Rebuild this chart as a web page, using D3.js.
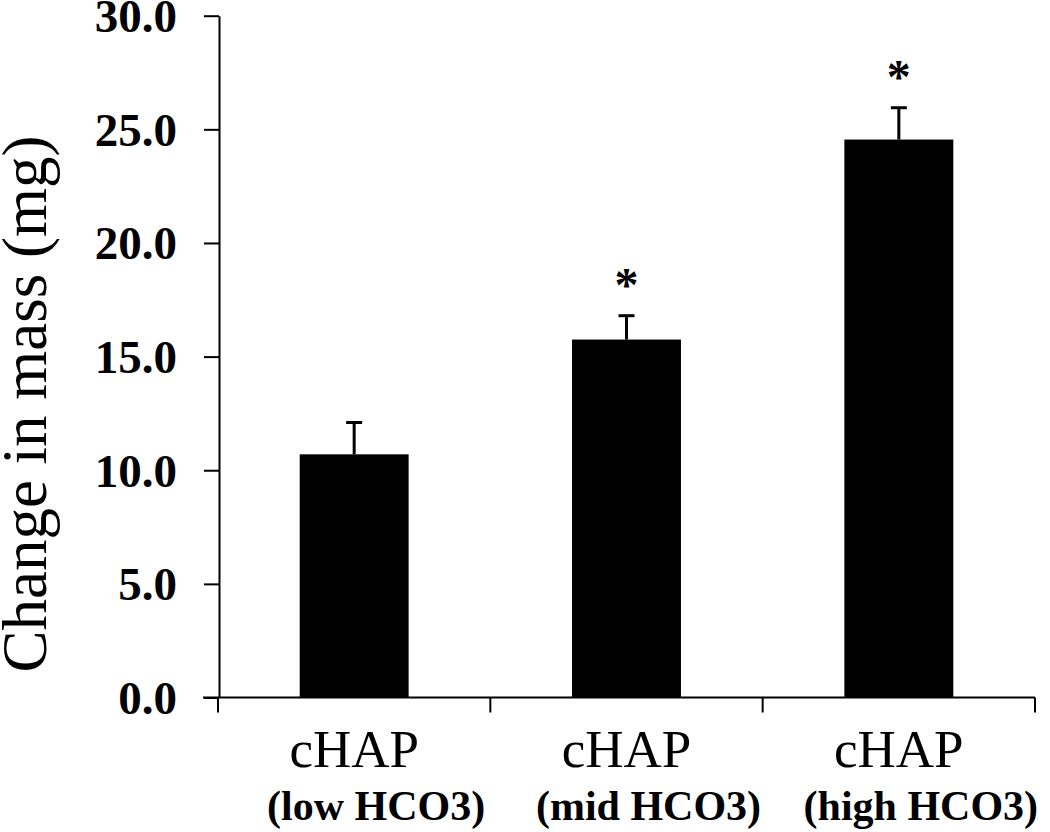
<!DOCTYPE html>
<html>
<head>
<meta charset="utf-8">
<script src="https://cdn.jsdelivr.net/npm/d3@7"></script>
<style>
  html, body { margin: 0; padding: 0; background: #fff; }
  svg { display: block; }
  text { font-family: "Liberation Serif", "Times New Roman", serif; fill: #000; }
</style>
</head>
<body>
<svg id="chart" width="1050" height="832"></svg>
<script>
const categories = ["cHAP", "cHAP", "cHAP"];
const subLabels = ["(low HCO3)", "(mid HCO3)", "(high HCO3)"];
const means = [10.7, 15.75, 24.55];
const errors = [1.4, 1.05, 1.4];
const significant = [false, true, true];
const yTicks = [0, 5, 10, 15, 20, 25, 30];
const yTitle = "Change in mass (mg)";

const svg = d3.select("#chart");
const ids = categories.map((c, i) => i);

const x = d3.scaleBand().domain(ids).range([218, 1035]).paddingInner(0.6).paddingOuter(0.3);
const y = d3.scaleLinear().domain([0, 30]).range([697.5, 15.7]);

// Y axis
const yAxis = svg.append("g").attr("transform", "translate(219,0)")
  .call(d3.axisLeft(y).tickValues(yTicks).tickFormat(d3.format(".1f")).tickSize(15).tickSizeOuter(0).tickPadding(27));
yAxis.selectAll("path, line").attr("stroke", "#000").attr("stroke-width", 2);
yAxis.selectAll("text").attr("font-size", 47).attr("font-weight", "bold")
  .attr("font-family", "'Liberation Serif','Times New Roman',serif").attr("dy", "0.34em");

// X axis
const xAxis = svg.append("g").attr("transform", `translate(0,${y(0)})`)
  .call(d3.axisBottom(x).tickSize(0).tickSizeOuter(0).tickFormat(""));
xAxis.select("path").attr("stroke", "#000").attr("stroke-width", 2)
  .attr("d", `M203,0H${x.range()[1]}`);
const bounds = d3.range(categories.length + 1).map(i => x.range()[0] + i * x.step());
xAxis.selectAll("line.bound").data(bounds).join("line").attr("class", "bound")
  .attr("x1", d => d).attr("x2", d => d).attr("y1", 0).attr("y2", 15)
  .attr("stroke", "#000").attr("stroke-width", 2);

// Bars
svg.append("g").selectAll("rect").data(ids).join("rect")
  .attr("x", i => x(i)).attr("width", x.bandwidth())
  .attr("y", i => y(means[i])).attr("height", i => y(0) - y(means[i]))
  .attr("fill", "#000");

// Error bars
const eb = svg.append("g").attr("stroke", "#000").attr("stroke-width", 3);
ids.forEach(i => {
  const cx = x(i) + x.bandwidth() / 2;
  eb.append("line").attr("x1", cx).attr("x2", cx).attr("y1", y(means[i])).attr("y2", y(means[i] + errors[i]));
  eb.append("line").attr("x1", cx - 8).attr("x2", cx + 8).attr("y1", y(means[i] + errors[i])).attr("y2", y(means[i] + errors[i]));
});

// Significance stars
svg.append("g").selectAll("text").data(ids.filter(i => significant[i])).join("text")
  .attr("x", i => x(i) + x.bandwidth() / 2)
  .attr("y", i => y(means[i] + errors[i]) - 15)
  .attr("text-anchor", "middle").attr("font-size", 48).attr("font-weight", "bold")
  .text("*");

// Category labels
svg.append("g").selectAll("text").data(ids).join("text")
  .attr("x", i => x(i) + x.bandwidth() / 2)
  .attr("y", 767).attr("text-anchor", "middle").attr("font-size", 53)
  .text(i => categories[i]);
svg.append("g").selectAll("text").data(ids).join("text")
  .attr("x", i => x(i) + x.bandwidth() / 2 + 22)
  .attr("y", 820).attr("text-anchor", "middle").attr("font-size", 42).attr("font-weight", "bold")
  .text(i => subLabels[i]);

// Y title
svg.append("text").attr("transform", "translate(46,404) rotate(-90)")
  .attr("text-anchor", "middle").attr("font-size", 63).text(yTitle);
</script>
</body>
</html>
